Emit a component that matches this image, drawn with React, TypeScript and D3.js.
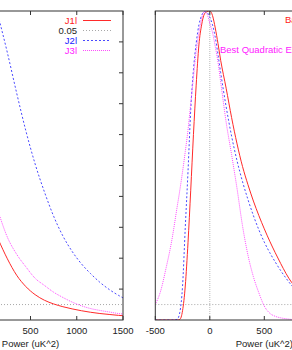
import React from 'react';
import * as d3 from 'd3';

// left panel: likelihood vs power, 0 - 1500 range
const leftPower = [150, 250, 350, 450, 550, 650, 750, 850, 950, 1050, 1150, 1250, 1350, 1450, 1550];
const leftJ1 = [0.262, 0.198, 0.145, 0.108, 0.082, 0.064, 0.052, 0.043, 0.036, 0.030, 0.025, 0.021, 0.018, 0.015, 0.013];
const leftJ2 = [0.985, 0.865, 0.735, 0.612, 0.505, 0.415, 0.336, 0.272, 0.222, 0.182, 0.150, 0.122, 0.099, 0.080, 0.064];
const leftJ3 = [0.352, 0.268, 0.213, 0.172, 0.135, 0.112, 0.090, 0.073, 0.058, 0.046, 0.037, 0.031, 0.026, 0.021, 0.018];

// right panel: peaked around zero
const rightPower = [-500, -450, -400, -350, -300, -275, -250, -225, -200, -175, -150, -125, -100, -75, -50, -25, 0, 25, 50, 75, 100, 150, 200, 250, 300, 350, 400, 450, 500, 550, 600, 650, 700, 750, 800];
const rightJ1 = [0, 0, 0, 0, 0, 0.002, 0.030, 0.110, 0.250, 0.420, 0.600, 0.760, 0.890, 0.955, 0.990, 0.998, 1.0, 0.985, 0.945, 0.895, 0.840, 0.750, 0.655, 0.570, 0.497, 0.438, 0.385, 0.338, 0.295, 0.255, 0.218, 0.183, 0.150, 0.122, 0.100];
const rightJ2 = [0, 0, 0, 0, 0.002, 0.025, 0.110, 0.300, 0.480, 0.680, 0.810, 0.895, 0.955, 0.985, 0.998, 0.995, 0.980, 0.955, 0.915, 0.860, 0.800, 0.690, 0.595, 0.515, 0.448, 0.390, 0.338, 0.292, 0.252, 0.218, 0.188, 0.160, 0.135, 0.112, 0.092];
const rightJ3 = [0.050, 0.095, 0.170, 0.255, 0.365, 0.420, 0.480, 0.545, 0.615, 0.700, 0.785, 0.870, 0.930, 0.975, 0.998, 0.990, 0.960, 0.930, 0.885, 0.835, 0.770, 0.640, 0.535, 0.425, 0.305, 0.210, 0.140, 0.088, 0.045, 0.022, 0.012, 0.007, 0.004, 0.002, 0.001];

const xTicks = [-500, 0, 500, 1000, 1500];
const yTicks = [0.1, 0.2, 0.3, 0.4, 0.5, 0.6, 0.7, 0.8, 0.9];
const cutLevel = 0.05;

const RED = '#ff2a2a';
const BLUE = '#4a4aff';
const MAGENTA = '#ff4cff';
const GRAY = '#a8a8a8';

const legend = [
  { label: 'J1l', color: RED, dash: undefined, text: '#ff2020' },
  { label: '0.05', color: GRAY, dash: '1,2', text: '#222' },
  { label: 'J2l', color: BLUE, dash: '2,2', text: '#2020ff' },
  { label: 'J3l', color: MAGENTA, dash: '1,1', text: '#ff20ff' },
];

const series = [
  { color: RED, dash: undefined },
  { color: BLUE, dash: '2,2' },
  { color: MAGENTA, dash: '1,1' },
];

const FONT = '"Liberation Sans", Arial, sans-serif';
const W = 292;
const TOP = 11;
const BOTTOM = 320;

const y = d3.scaleLinear().domain([0, 1]).range([BOTTOM, TOP]);
const xLeft = d3.scaleLinear().domain([-500, 1500]).range([-62, 123]);
const xRight = d3.scaleLinear().domain([-500, 1500]).range([155.3, 373.3]);

function pathFor(xs: number[], vs: number[], x: d3.ScaleLinear<number, number>) {
  const line = d3.line<number>()
    .x((_, i) => x(xs[i]))
    .y(d => y(d))
    .curve(d3.curveMonotoneX);
  return line(vs) || '';
}

const Panel = ({ x, xs, data, id, side }: any) => {
  const [x0, x1] = x.range();
  // only label ticks that land on the page
  const labelled = xTicks.filter(t => x(t) > 8 && x(t) < W - 8);
  return (
    <g>
      <defs>
        <clipPath id={id}>
          <rect x={x0} y={TOP} width={x1 - x0} height={BOTTOM - TOP} />
        </clipPath>
      </defs>
      <g clipPath={`url(#${id})`}>
        <line x1={x0} x2={x1} y1={y(cutLevel)} y2={y(cutLevel)} stroke={GRAY} strokeDasharray="1,2" />
        {side === 'right' && (
          <line x1={x(0)} x2={x(0)} y1={TOP} y2={BOTTOM} stroke="#b8b8b8" strokeDasharray="1,1" />
        )}
        {data.map((vs: number[], i: number) => (
          <path key={i} d={pathFor(xs, vs, x)} fill="none" stroke={series[i].color}
            strokeWidth={1} strokeDasharray={series[i].dash} />
        ))}
      </g>
      {/* frame */}
      <rect x={x0} y={TOP} width={x1 - x0} height={BOTTOM - TOP} fill="none" stroke="#333" strokeWidth={1} />
      {xTicks.map(t => (
        <g key={t}>
          <line x1={x(t)} x2={x(t)} y1={BOTTOM} y2={BOTTOM - 4} stroke="#333" />
          <line x1={x(t)} x2={x(t)} y1={TOP} y2={TOP + 4} stroke="#333" />
        </g>
      ))}
      {labelled.map(t => (
        <text key={t} x={x(t)} y={334} textAnchor="middle" fontSize={9.5} fontFamily={FONT} fill="#222">{t}</text>
      ))}
      {side === 'left' && yTicks.map(t => (
        <line key={t} x1={x1} x2={x1 - 4} y1={y(t)} y2={y(t)} stroke="#333" />
      ))}
      <text x={(x0 + x1) / 2} y={347} textAnchor="middle" fontSize={9.5} fontFamily={FONT} fill="#222">Power (uK^2)</text>
    </g>
  );
};

export default function App() {
  return (
    <svg width={W} height={350} style={{ position: 'absolute', left: 0, top: 0, background: '#fff' }}>
      <Panel id="clipL" side="left" x={xLeft} xs={leftPower} data={[leftJ1, leftJ2, leftJ3]} />
      <Panel id="clipR" side="right" x={xRight} xs={rightPower} data={[rightJ1, rightJ2, rightJ3]} />
      {legend.map((d, i) => (
        <g key={d.label}>
          <text x={77} y={24 + i * 10} textAnchor="end" fontSize={9.5} fontFamily={FONT}
            fill={d.text}>{d.label}</text>
          <line x1={83} x2={111} y1={20.5 + i * 10} y2={20.5 + i * 10} stroke={d.color}
            strokeDasharray={d.dash} />
        </g>
      ))}
      <text x={285} y={23} fontSize={9.5} fontFamily={FONT} fill="#ff2020">Bayesian Likelihood</text>
      <text x={220} y={53} fontSize={9.5} fontFamily={FONT} fill="#ff20ff">Best Quadratic Estimator</text>
    </svg>
  );
}
